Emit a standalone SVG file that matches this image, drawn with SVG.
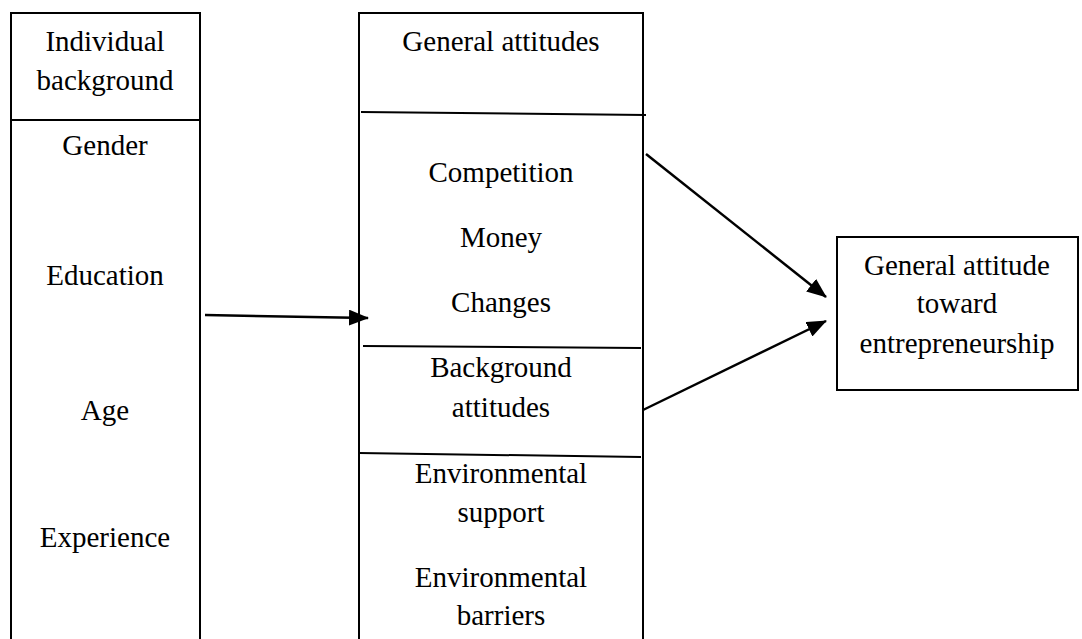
<svg xmlns="http://www.w3.org/2000/svg" width="1082" height="639" viewBox="0 0 1082 639">
<style>
.box{fill:none;stroke:#000;stroke-width:2}
.div{stroke:#000;stroke-width:2}
text{font-family:"Liberation Serif","Times New Roman",serif;font-size:29px;fill:#000;text-anchor:middle}
.conn{stroke:#000;stroke-width:2.5;fill:none;marker-end:url(#ah)}
</style>
<defs>
<marker id="ah" markerUnits="userSpaceOnUse" markerWidth="20" markerHeight="16" viewBox="0 0 20 16" refX="19" refY="8" orient="auto">
<path d="M0,0 L20,8 L0,16 Z" fill="#000"/>
</marker>
</defs>
<rect width="1082" height="639" fill="#fff"/>
<g id="individual-background">
<path class="box" d="M11,645 L11,13 L200,13 L200,645"/>
<line class="div" x1="10" y1="120" x2="200" y2="120"/>
<text x="105" y="51">Individual</text>
<text x="105" y="90">background</text>
<text x="105" y="155">Gender</text>
<text x="105" y="285">Education</text>
<text x="105" y="420">Age</text>
<text x="105" y="547">Experience</text>
</g>
<g id="general-attitudes">
<path class="box" d="M359,645 L359,13 L643,13 L643,645"/>
<line class="div" x1="361" y1="112" x2="646" y2="115"/>
<line class="div" x1="363" y1="346" x2="641" y2="348"/>
<line class="div" x1="359" y1="453" x2="641" y2="457"/>
<text x="501" y="51">General attitudes</text>
<text x="501" y="182">Competition</text>
<text x="501" y="247">Money</text>
<text x="501" y="312">Changes</text>
<text x="501" y="377">Background</text>
<text x="501" y="417">attitudes</text>
<text x="501" y="483">Environmental</text>
<text x="501" y="522">support</text>
<text x="501" y="587">Environmental</text>
<text x="501" y="625">barriers</text>
</g>
<g id="general-attitude-entrepreneurship">
<rect class="box" x="837" y="237" width="241" height="153"/>
<text x="957" y="275">General attitude</text>
<text x="957" y="313">toward</text>
<text x="957" y="353">entrepreneurship</text>
</g>
<g id="connectors">
<line class="conn" x1="205" y1="315" x2="368" y2="318"/>
<line class="conn" x1="646" y1="154" x2="826" y2="297"/>
<line class="conn" x1="643" y1="410" x2="826" y2="321"/>
</g>
</svg>
